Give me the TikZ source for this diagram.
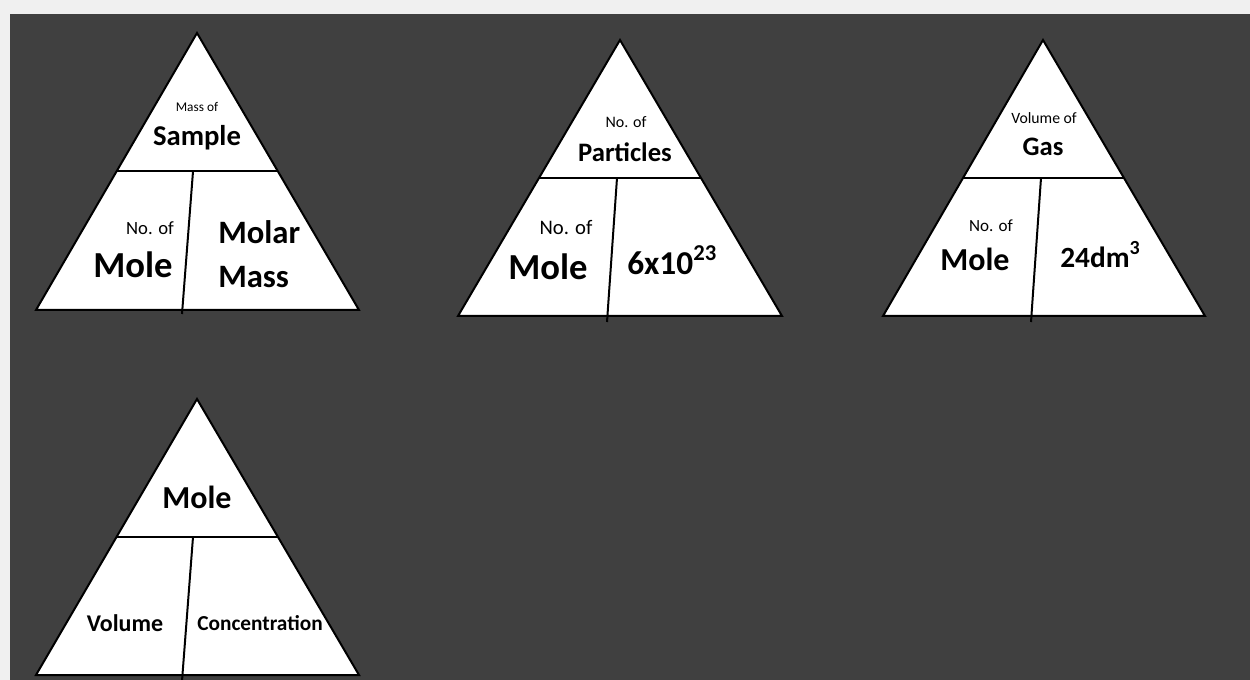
\documentclass[tikz,border=0pt]{standalone}
\usepackage{fontspec}
\setmainfont{Carlito}
\usetikzlibrary{calc,positioning}
\definecolor{slate}{HTML}{404040}
\definecolor{paper}{HTML}{F0F0F0}

\begin{document}
\begin{tikzpicture}[x=0.75pt,y=-0.75pt]
\tikzstyle{tri} = [draw=black,fill=white,line width=1.5pt]
\tikzstyle{rule} = [line width=1.5pt]
\tikzstyle{word} = [inner sep=0pt,font=\bfseries]
\tikzstyle{note} = [inner sep=0pt]
    \fill[paper] (0,0) rectangle (1250,680);
    \fill[slate] (10,14) rectangle (1250,680);
    \useasboundingbox (0,0) rectangle (1250,680);

    \coordinate (MassTop) at (197,33);
    \coordinate (MassLeft) at (36,310);
    \coordinate (MassRight) at (359,310);
    \coordinate (MassDivTop) at (193,171.5);
    \coordinate (MassDivBot) at (182,314);
    \coordinate (PartTop) at (620,40);
    \coordinate (PartLeft) at (458,316);
    \coordinate (PartRight) at (782,316);
    \coordinate (PartDivTop) at (617,178);
    \coordinate (PartDivBot) at (607,322);
    \coordinate (GasTop) at (1043,40);
    \coordinate (GasLeft) at (883,316);
    \coordinate (GasRight) at (1205,316);
    \coordinate (GasDivTop) at (1041,178);
    \coordinate (GasDivBot) at (1031,322);
    \coordinate (ConcTop) at (197,399);
    \coordinate (ConcLeft) at (36,675);
    \coordinate (ConcRight) at (359,675);
    \coordinate (ConcDivTop) at (193,537);
    \coordinate (ConcDivBot) at (182,681);

    \draw[tri] (MassTop) -- (MassRight) -- (MassLeft) -- cycle;
    \draw[rule] ($(MassTop)!.5!(MassLeft)$) -- ($(MassTop)!.5!(MassRight)$);
    \draw[rule] (MassDivTop) -- (MassDivBot);
    \draw[tri] (PartTop) -- (PartRight) -- (PartLeft) -- cycle;
    \draw[rule] ($(PartTop)!.5!(PartLeft)$) -- ($(PartTop)!.5!(PartRight)$);
    \draw[rule] (PartDivTop) -- (PartDivBot);
    \draw[tri] (GasTop) -- (GasRight) -- (GasLeft) -- cycle;
    \draw[rule] ($(GasTop)!.5!(GasLeft)$) -- ($(GasTop)!.5!(GasRight)$);
    \draw[rule] (GasDivTop) -- (GasDivBot);
    \draw[tri] (ConcTop) -- (ConcRight) -- (ConcLeft) -- cycle;
    \draw[rule] ($(ConcTop)!.5!(ConcLeft)$) -- ($(ConcTop)!.5!(ConcRight)$);
    \draw[rule] (ConcDivTop) -- (ConcDivBot);

    \node[note,font=\fontsize{10}{12}\selectfont] (massof) at (197,107) {Mass of};
    \node[word,font=\fontsize{21.5}{25}\selectfont\bfseries] (sample) at (197,138) {Sample};
    \node[note,font=\fontsize{14}{16}\selectfont] (noof1) at (150,228) {No. of};
    \node[word,font=\fontsize{27.5}{30}\selectfont\bfseries] (mole1) at (133,265) {Mole};
    \node[word,font=\fontsize{24.5}{28}\selectfont\bfseries,anchor=west] (molar) at (218,232) {Molar};
    \node[word,font=\fontsize{24.5}{28}\selectfont\bfseries,anchor=west] (molarmass) at (218,277) {Mass};

    \node[note,font=\fontsize{12}{14}\selectfont] (noof2) at (626,122) {No. of};
    \node[word,font=\fontsize{20}{23}\selectfont\bfseries] (particles) at (625,152) {Particles};
    \node[note,font=\fontsize{15.5}{18}\selectfont] (noof3) at (566,228) {No. of};
    \node[word,font=\fontsize{27.5}{30}\selectfont\bfseries] (mole2) at (548,267) {Mole};
    \node[word,font=\fontsize{25}{28}\selectfont\bfseries,anchor=base west] (avogadro) at (627,275) {6x10\raisebox{11pt}{\fontsize{17}{19}\selectfont 23}};

    \node[note,font=\fontsize{11.8}{14}\selectfont] (volof) at (1044,118) {Volume of};
    \node[word,font=\fontsize{20}{23}\selectfont\bfseries] (gas) at (1043,147) {Gas};
    \node[note,font=\fontsize{12.8}{15}\selectfont] (noof4) at (991,226) {No. of};
    \node[word,font=\fontsize{24}{27}\selectfont\bfseries] (mole3) at (975,259) {Mole};
    \node[word,font=\fontsize{22}{25}\selectfont\bfseries,anchor=base west] (molvol) at (1060,268) {24dm\raisebox{10pt}{\fontsize{15}{17}\selectfont 3}};

    \node[word,font=\fontsize{24}{27}\selectfont\bfseries] (mole4) at (197,497) {Mole};
    \node[word,font=\fontsize{18}{21}\selectfont\bfseries] (volume) at (125,623) {Volume};
    \node[word,font=\fontsize{16}{19}\selectfont\bfseries] (conc) at (260,623) {Concentration};
\end{tikzpicture}
\end{document}
